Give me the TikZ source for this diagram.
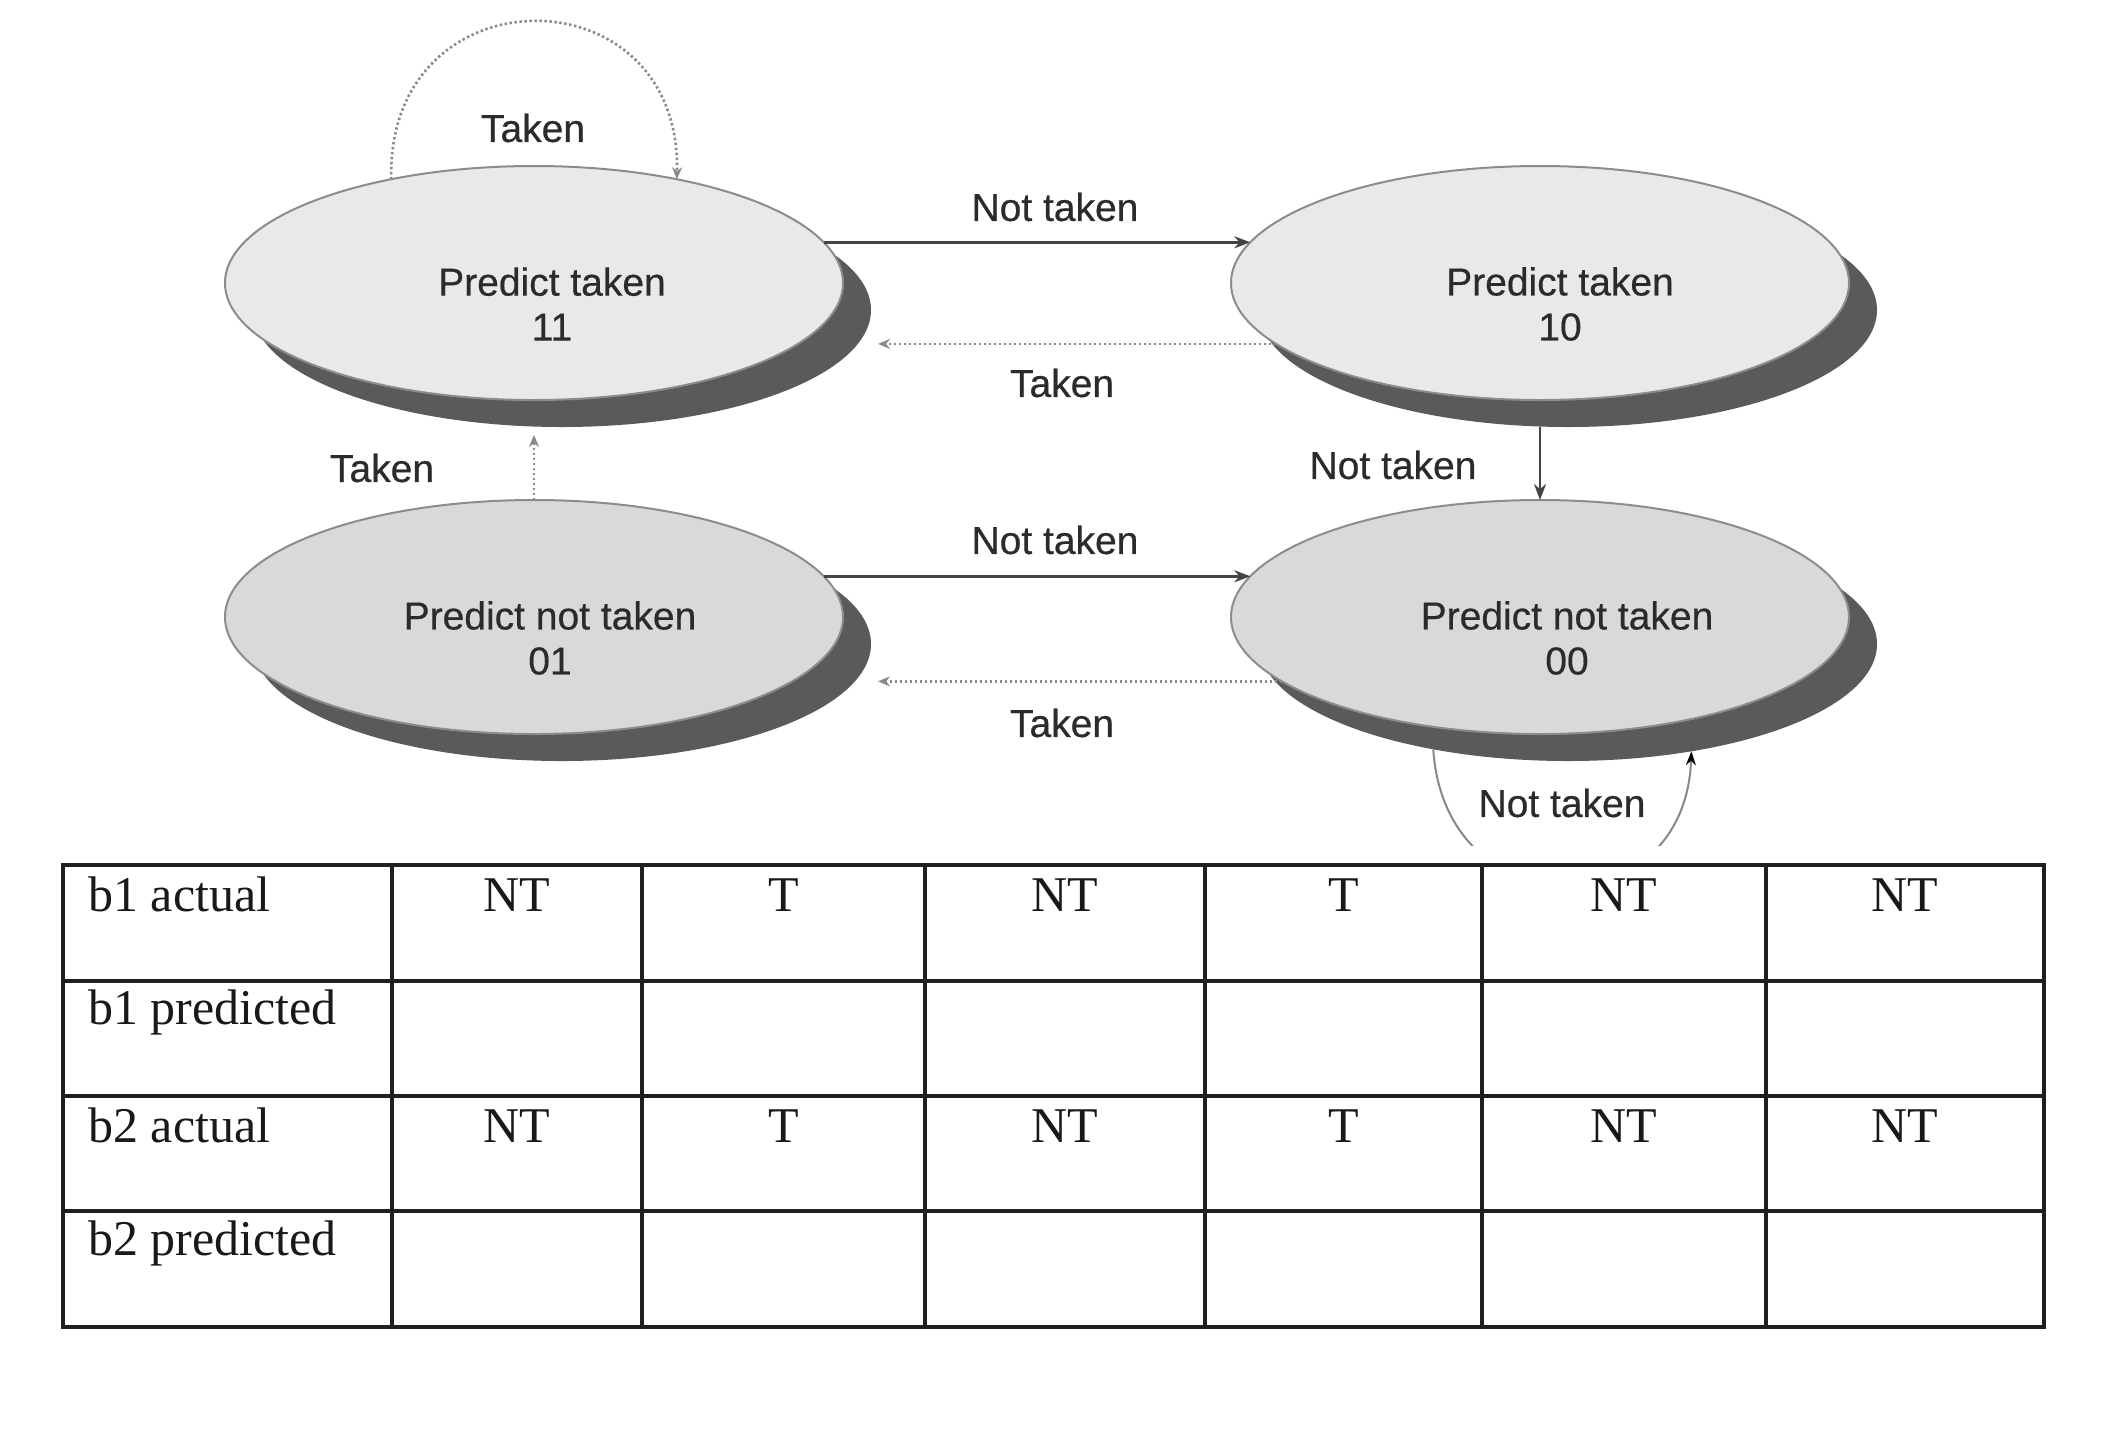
\documentclass[tikz,border=0pt]{standalone}
\usepackage{fontspec}
\newfontfamily\labfont[FakeBold=0.5]{Liberation Sans}
\newfontfamily\tabfont{Liberation Serif}
\usetikzlibrary{shapes.geometric,calc,arrows.meta}
\definecolor{lightfill}{HTML}{E9E9E9}
\definecolor{darkfill}{HTML}{D9D9D9}
\definecolor{shadowc}{HTML}{5A5A5A}
\definecolor{edgec}{HTML}{8C8C8C}
\definecolor{textc}{HTML}{2B2B2B}
\definecolor{arrowc}{HTML}{444444}
\definecolor{dotc}{HTML}{8A8A8A}
\definecolor{loopc}{HTML}{888888}
\begin{document}
\begin{tikzpicture}[x=0.5pt,y=-0.5pt,
  stateshape/.style={ellipse, minimum width=309pt, minimum height=117pt, inner sep=0pt, outer sep=0pt},
  statelight/.style={stateshape, fill=lightfill, draw=edgec, line width=1pt},
  statedark/.style={stateshape, fill=darkfill, draw=edgec, line width=1pt},
  shadowell/.style={stateshape, fill=shadowc},
  stext/.style={font=\labfont\fontsize{19.5}{22.5}\selectfont, text=textc, align=center, inner sep=0pt},
  lab/.style={font=\labfont\fontsize{19.5}{22.5}\selectfont, text=textc, inner sep=0pt},
  solidarrow/.style={draw=arrowc, line width=1.4pt, -{Stealth[length=8pt,width=6pt]}},
  dotarrow/.style={draw=dotc, line width=1.3pt, dash pattern=on 1.2pt off 1.3pt, -{Stealth[length=6pt,width=5pt]}},
  looparrow/.style={draw=loopc, line width=1pt, -{Stealth[length=7pt,width=5pt,color=black]}},
  tabline/.style={draw=black!88, line width=1.6pt},
  tabtxt/.style={font=\tabfont\fontsize{25}{30}\selectfont, text=black!90, inner sep=0pt}
]
\fill[white] (0,0) rectangle (2115,1431);
\useasboundingbox (0,0) rectangle (2115,1431);

% shadows
\node[shadowell] (s11sh) at (562,310) {};
\node[shadowell] (s10sh) at (1568,310) {};
\node[shadowell] (s01sh) at (562,644) {};
\node[shadowell] (s00sh) at (1568,644) {};
% states
\node[statelight] (s11) at (534,283) {};
\node[statelight] (s10) at (1540,283) {};
\node[statedark] (s01) at (534,617) {};
\node[statedark] (s00) at (1540,617) {};
\node[stext] (t11) at (552,304) {Predict taken\\11};
\node[stext] (t10) at (1560,304) {Predict taken\\10};
\node[stext] (t01) at (550,638) {Predict not taken\\01};
\node[stext] (t00) at (1567,638) {Predict not taken\\00};

% connectors
\draw[dotarrow] (s11.144) .. controls +(-5,-210) and +(5,-210) .. (s11.36);
\node[lab] (l1) at (533,128) {Taken};

\draw[solidarrow] (s11.8) -- (s10.172);
\node[lab] (l2) at (1055,207) {Not taken};

\draw[dotarrow] (s10.193) -- ($(s11.east |- s10.193)+(35,0)$);
\node[lab] (l3) at (1062,383) {Taken};

\draw[dotarrow] (s01.north) -- ($(s11.south |- s11sh.south)+(0,8)$);
\node[lab] (l4) at (382,468) {Taken};

\draw[solidarrow] (s10.south |- s10sh.south) -- (s00.north);
\node[lab] (l5) at (1393,465) {Not taken};

\draw[solidarrow] (s01.8) -- (s00.172);
\node[lab] (l6) at (1055,540) {Not taken};

\draw[dotarrow] (s00.194) -- ($(s01.east |- s00.194)+(35,0)$);
\node[lab] (l7) at (1062,723) {Taken};

\begin{scope}
\clip (0,0) rectangle (2115,845);
\draw[looparrow] (s00sh.218) .. controls (1445,930) and (1685,930) .. (s00sh.319);
\end{scope}
\node[lab] (l8) at (1562,803) {Not taken};

% table
\draw[tabline] (63,865) rectangle (2044,1327);
\foreach \yy in {981,1096,1211} \draw[tabline] (63,\yy) -- (2044,\yy);
\foreach \xx in {392,642,925,1205,1482,1766} \draw[tabline] (\xx,865) -- (\xx,1327);

\node[tabtxt, anchor=base west] (h1) at (88,911) {b1 actual};
\node[tabtxt, anchor=base west] (h2) at (88,1024) {b1 predicted};
\node[tabtxt, anchor=base west] (h3) at (88,1142) {b2 actual};
\node[tabtxt, anchor=base west] (h4) at (88,1255) {b2 predicted};
\foreach \xx/\vv [count=\i] in {517/NT,783.5/T,1065/NT,1343.5/T,1624/NT,1905/NT}{
  \node[tabtxt, anchor=base] (a1-\i) at (\xx,911) {\vv};
  \node[tabtxt, anchor=base] (a2-\i) at (\xx,1142) {\vv};
}
\end{tikzpicture}
\end{document}
